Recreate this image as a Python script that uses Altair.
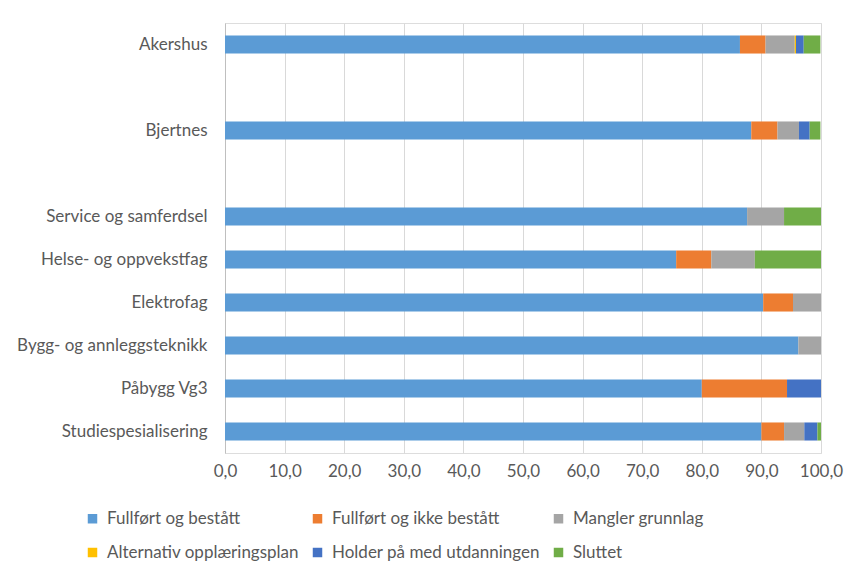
import altair as alt
import pandas as pd

categories = ["Akershus", "Bjertnes", "Service og samferdsel", "Helse- og oppvekstfag",
              "Elektrofag", "Bygg- og annleggsteknikk", "Påbygg Vg3", "Studiespesialisering"]
row_order = ["Akershus", " ", "Bjertnes", "  ", "Service og samferdsel", "Helse- og oppvekstfag",
             "Elektrofag", "Bygg- og annleggsteknikk", "Påbygg Vg3", "Studiespesialisering"]

series = ["Fullført og bestått", "Fullført og ikke bestått", "Mangler grunnlag",
          "Alternativ opplæringsplan", "Holder på med utdanningen", "Sluttet"]
colors = ["#5B9BD5", "#ED7D31", "#A5A5A5", "#FFC000", "#4472C4", "#70AD47"]

fullfort_bestatt = [86.4, 88.3, 87.6, 75.7, 90.3, 96.2, 80.0, 90.0]
fullfort_ikke = [4.3, 4.4, 0.0, 5.9, 5.0, 0.0, 14.3, 3.8]
mangler = [4.9, 3.6, 6.2, 7.3, 4.7, 3.8, 0.0, 3.4]
alternativ = [0.2, 0.0, 0.0, 0.0, 0.0, 0.0, 0.0, 0.0]
holder = [1.3, 1.8, 0.0, 0.0, 0.0, 0.0, 5.7, 2.2]
sluttet = [2.8, 1.8, 6.2, 11.1, 0.0, 0.0, 0.0, 0.6]

values = [fullfort_bestatt, fullfort_ikke, mangler, alternativ, holder, sluttet]
rows = []
for si, (s, vals) in enumerate(zip(series, values)):
    for c, v in zip(categories, vals):
        rows.append({"Kategori": c, "Serie": s, "Verdi": v, "idx": si})
df = pd.DataFrame(rows)

FONT = "Lato"
TXT = "#595959"
FS = 17

chart = alt.Chart(df).mark_bar().encode(
    y=alt.Y("Kategori:N", sort=row_order,
            scale=alt.Scale(domain=row_order, paddingInner=0.58, paddingOuter=0.29),
            axis=alt.Axis(title=None, labelFont=FONT, labelFontSize=FS, labelColor=TXT,
                          labelPadding=18, ticks=False, domainColor="#BFBFBF",
                          labelLimit=0, labelExpr="trim(datum.label)")),
    x=alt.X("Verdi:Q", stack="zero",
            scale=alt.Scale(domain=[0, 100], nice=False),
            axis=alt.Axis(title=None, values=list(range(0, 101, 10)), labelFont=FONT,
                          labelFontSize=FS, labelColor=TXT, ticks=False, domain=False,
                          labelFlush=False, labelAlign="center", labelOverlap=False,
                          grid=True, gridColor="#D9D9D9", labelPadding=10,
                          labelExpr="replace(format(datum.value, '.1f'), '.', ',')")),
    color=alt.Color("Serie:N", sort=series,
                    scale=alt.Scale(domain=series, range=colors),
                    legend=alt.Legend(title=None, orient="none", direction="horizontal",
                                      columns=3, legendX=-141, legendY=487,
                                      symbolType="square", symbolSize=90, symbolStrokeWidth=0,
                                      labelFont=FONT, labelFontSize=FS, labelColor=TXT,
                                      labelLimit=0,
                                      columnPadding=10, rowPadding=16, labelOffset=6)),
    order=alt.Order("idx:Q", sort="ascending"),
).properties(
    width=596, height=430,
    autosize=alt.AutoSizeParams(type="none"),
    padding={"left": 217, "top": 15, "right": 37, "bottom": 120},
).configure_view(stroke=None).configure(background="white")

chart.save("out.html", embed_options={"renderer": "svg", "actions": False})
